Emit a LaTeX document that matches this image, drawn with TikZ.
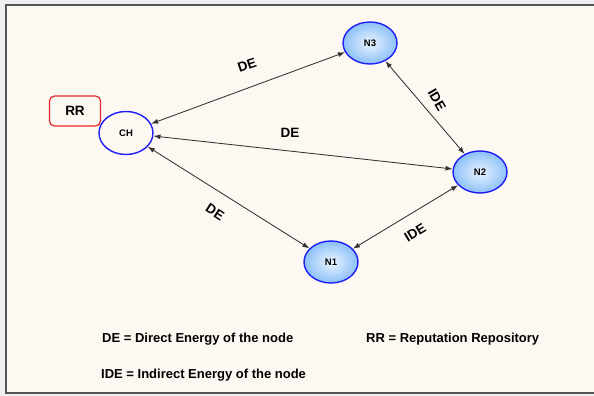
\documentclass[tikz,border=0pt]{standalone}
\usepackage{fontspec}
\setmainfont{Liberation Sans}
\usetikzlibrary{arrows.meta,shapes.geometric}
\definecolor{paper}{HTML}{FDF8F1}
\definecolor{margin}{HTML}{EFEFEF}
\definecolor{frameline}{HTML}{555555}
\definecolor{nodeblue}{HTML}{1E1EF5}
\definecolor{nodefill}{HTML}{8CC0F8}
\definecolor{nodecore}{HTML}{EAF4FF}
\definecolor{rrred}{HTML}{E5262B}
\definecolor{linkgrey}{HTML}{333333}
\tikzset{
  member/.style={ellipse, draw=nodeblue, line width=1.4pt, minimum width=54pt, minimum height=42pt,
    inner sep=0pt, inner color=nodecore, outer color=nodefill, font=\bfseries\fontsize{9.5}{11}\selectfont},
  head/.style={ellipse, draw=nodeblue, line width=1.4pt, minimum width=54pt, minimum height=43pt,
    inner sep=0pt, fill=paper, font=\bfseries\fontsize{9.5}{11}\selectfont},
  repo/.style={rectangle, rounded corners=5pt, draw=rrred, line width=1.2pt, minimum width=51pt,
    minimum height=30pt, fill=paper, font=\bfseries\fontsize{13.5}{15}\selectfont},
  link/.style={draw=linkgrey, line width=0.85pt, {Latex[length=7pt,width=5pt]}-{Latex[length=7pt,width=5pt]}},
  elabel/.style={font=\bfseries\fontsize{13.5}{15}\selectfont, inner sep=0pt},
  legend/.style={font=\bfseries\fontsize{13}{15}\selectfont, anchor=base west, inner sep=0pt}
}
\begin{document}
\begin{tikzpicture}[x=1pt,y=-1pt]
  % page and frame
  \fill[margin] (0,0) rectangle (594,396);
  \useasboundingbox (0,0) rectangle (594,396);
  \fill[paper] (6,5) rectangle (600,393);
  \draw[frameline, line width=1.6pt] (600,5) -- (6,5) -- (6,393) -- (600,393);

  % nodes
  \node[repo] (rr) at (75,111) {RR};
  \node[head] (ch) at (126,133) {CH};
  \node[member] (n3) at (370,43) {N3};
  \node[member] (n2) at (480,172) {N2};
  \node[member] (n1) at (331,262) {N1};

  % energy links
  \draw[link] (ch) -- (n3);
  \draw[link] (ch) -- (n2);
  \draw[link] (ch) -- (n1);
  \draw[link] (n3) -- (n2);
  \draw[link] (n1) -- (n2);

  % link labels
  \node[elabel, rotate=19] (l1) at (247,65) {DE};
  \node[elabel] (l2) at (290,133) {DE};
  \node[elabel, rotate=-33] (l3) at (215,212) {DE};
  \node[elabel, rotate=-60] (l4) at (437,100) {IDE};
  \node[elabel, rotate=31] (l5) at (415,233) {IDE};

  % legend
  \node[legend] (k1) at (102,342) {DE = Direct Energy of the node};
  \node[legend] (k2) at (366,342) {RR = Reputation Repository};
  \node[legend] (k3) at (101,378) {IDE = Indirect Energy of the node};
\end{tikzpicture}
\end{document}
